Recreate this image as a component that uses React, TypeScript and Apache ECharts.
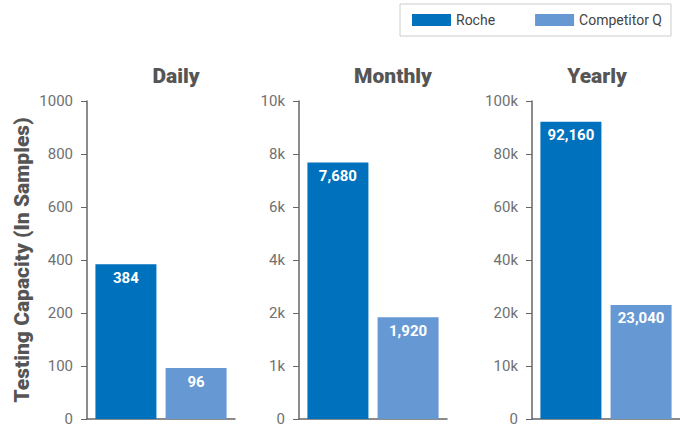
import React, { useEffect, useRef } from "react";
import * as echarts from "echarts";

const panels = ["Daily", "Monthly", "Yearly"];
const seriesNames = ["Roche", "Competitor Q"];
const dailyValues = [384, 96];
const monthlyValues = [7680, 1920];
const yearlyValues = [92160, 23040];
const dailyTicks = [0, 100, 200, 400, 600, 800, 1000];
const monthlyTicks = [0, 1000, 2000, 4000, 6000, 8000, 10000];
const yearlyTicks = [0, 10000, 20000, 40000, 60000, 80000, 100000];
const dailyTickLabels = ["0", "100", "200", "400", "600", "800", "1000"];
const monthlyTickLabels = ["0", "1k", "2k", "4k", "6k", "8k", "10k"];
const yearlyTickLabels = ["0", "10k", "20k", "40k", "60k", "80k", "100k"];
const colors = ["#0071BC", "#6699D3"];

const values = [dailyValues, monthlyValues, yearlyValues];
const ticks = [dailyTicks, monthlyTicks, yearlyTicks];
const tickLabels = [dailyTickLabels, monthlyTickLabels, yearlyTickLabels];

// piecewise-linear scale through the (unevenly spaced) tick values
function toAxis(v: number, t: number[]): number {
  for (let i = 0; i < t.length - 1; i++) {
    if (v >= t[i] && v <= t[i + 1]) return i + (v - t[i]) / (t[i + 1] - t[i]);
  }
  return t.length - 1;
}

const gridLefts = [87, 299, 532];
const gridWidth = 148;
const titleX = [176, 393, 597];

export default function App() {
  const ref = useRef<HTMLDivElement>(null);
  useEffect(() => {
    if (!ref.current) return;
    const chart = echarts.init(ref.current, null, { renderer: "svg" });
    const font = "Roboto";
    const grids = panels.map((_, i) => ({
      left: gridLefts[i],
      width: gridWidth,
      top: 101,
      bottom: 8,
    }));
    const xAxes = panels.map((_, i) => ({
      type: "category",
      gridIndex: i,
      data: [""],
      axisLine: { lineStyle: { color: "#666", width: 1.5 } },
      axisTick: { show: false },
      axisLabel: { show: false },
    }));
    const yAxes = panels.map((_, i) => ({
      type: "value",
      gridIndex: i,
      min: 0,
      max: 6,
      interval: 1,
      name: i === 0 ? "Testing Capacity (In Samples)" : "",
      nameLocation: "middle",
      nameGap: 55,
      nameTextStyle: { fontFamily: font, fontSize: 21, fontWeight: 900, color: "#555" },
      axisLine: { show: true, lineStyle: { color: "#666", width: 1.5 } },
      axisTick: { show: true, length: 6, lineStyle: { color: "#666" } },
      splitLine: { show: false },
      axisLabel: {
        margin: 14,
        fontFamily: font,
        fontSize: 15,
        color: "#707070",
        formatter: (v: number) => tickLabels[i][Math.round(v)] ?? "",
      },
    }));
    const series: any[] = [];
    panels.forEach((_, p) => {
      seriesNames.forEach((name, s) => {
        series.push({
          type: "bar",
          name,
          xAxisIndex: p,
          yAxisIndex: p,
          barWidth: 61,
          barGap: "15%",
          itemStyle: { color: colors[s] },
          data: [toAxis(values[p][s], ticks[p])],
          label: {
            show: true,
            position: "insideTop",
            distance: 6,
            fontFamily: font,
            fontSize: 15,
            fontWeight: "bold",
            color: "#fff",
            formatter: () => values[p][s].toLocaleString("en-US"),
          },
        });
      });
    });
    chart.setOption({
      animation: false,
      legend: {
        data: seriesNames,
        left: 400,
        top: 4,
        padding: [9, 9, 9, 12],
        borderColor: "#ccc",
        borderWidth: 1,
        itemWidth: 39,
        itemHeight: 12,
        itemGap: 40,
        icon: "rect",
        textStyle: { fontFamily: font, fontSize: 14, color: "#444" },
      },
      grid: grids,
      xAxis: xAxes,
      yAxis: yAxes,
      series,
      graphic: panels.map((t, i) => ({
        type: "text",
        x: titleX[i],
        y: 76,
        style: {
          text: t,
          align: "center",
          verticalAlign: "middle",
          font: `900 21px ${font}`,
          fill: "#555",
        },
      })),
    });
    return () => chart.dispose();
  }, []);
  return (
    <div
      ref={ref}
      style={{ position: "fixed", left: 0, top: 0, width: 680, height: 427, background: "#fff" }}
    />
  );
}
